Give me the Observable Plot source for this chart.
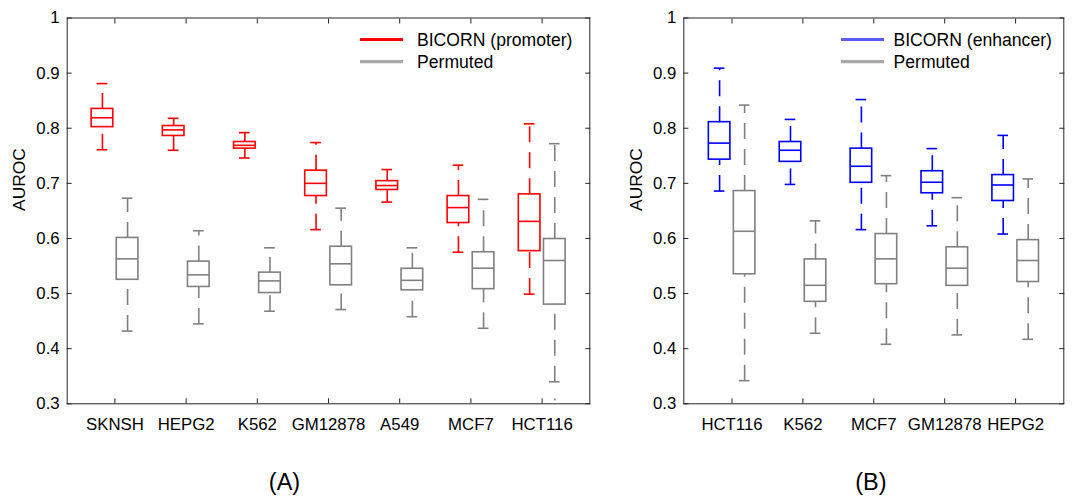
<!DOCTYPE html>
<html><head><meta charset="utf-8">
<script src="https://cdn.jsdelivr.net/npm/d3@7"></script>
<script src="https://cdn.jsdelivr.net/npm/@observablehq/plot@0.6"></script>
<style>
body{margin:0;background:#fff;}
#wrap{position:relative;width:1072px;height:496px;font-family:"Liberation Sans",Arial,Helvetica,sans-serif;}
.panel{position:absolute;top:0;}
.legend{position:absolute;top:0;}
</style></head><body><div id="wrap"></div>
<script>
const promoterCells = ["SKNSH","HEPG2","K562","GM12878","A549","MCF7","HCT116"];
// each entry: [lower whisker, Q1, median, Q3, upper whisker]
const promoterBicorn = [
 [0.761,0.802,0.819,0.835,0.881],
 [0.760,0.786,0.797,0.804,0.818],
 [0.746,0.763,0.769,0.775,0.792],
 [0.616,0.677,0.700,0.723,0.774],
 [0.666,0.688,0.696,0.704,0.725],
 [0.575,0.628,0.656,0.677,0.733],
 [0.499,0.577,0.631,0.680,0.808]];
const promoterPermuted = [
 [0.432,0.525,0.563,0.601,0.673],
 [0.445,0.512,0.534,0.558,0.614],
 [0.468,0.501,0.523,0.538,0.583],
 [0.471,0.515,0.554,0.585,0.655],
 [0.458,0.506,0.524,0.545,0.583],
 [0.437,0.508,0.546,0.575,0.671],
 [0.340,0.480,0.560,0.599,0.772]];
const promoterPermutedOutliers = [{cell:7, value:0.308}];
const enhancerCells = ["HCT116","K562","MCF7","GM12878","HEPG2"];
const enhancerBicorn = [
 [0.686,0.743,0.773,0.811,0.909],
 [0.698,0.739,0.760,0.775,0.816],
 [0.616,0.701,0.731,0.763,0.852],
 [0.623,0.682,0.702,0.722,0.763],
 [0.608,0.668,0.697,0.715,0.787]];
const enhancerPermuted = [
 [0.342,0.535,0.613,0.686,0.842],
 [0.428,0.485,0.515,0.562,0.632],
 [0.408,0.517,0.563,0.608,0.714],
 [0.425,0.514,0.546,0.584,0.674],
 [0.417,0.521,0.560,0.597,0.708]];
const yTicks = [0.3,0.4,0.5,0.6,0.7,0.8,0.9,1];
const promoterLegend = ["BICORN (promoter)","Permuted"];
const enhancerLegend = ["BICORN (enhancer)","Permuted"];

const FONT = '"Liberation Sans",Arial,Helvetica,sans-serif';
const AXIS = "#262626";
const GRAY = "#808080";

function boxMarks(stats, offset, color) {
  const d = stats.map((s,i)=>({pos:i+1+offset, lo:s[0], q1:s[1], med:s[2], q3:s[3], hi:s[4]}));
  const hw = 0.152, cw = 0.075, sw = 1.6;
  return [
    Plot.link(d,{x1:"pos",x2:"pos",y1:"q3",y2:"hi",stroke:color,strokeWidth:sw,strokeDasharray:"16,10"}),
    Plot.link(d,{x1:"pos",x2:"pos",y1:"lo",y2:"q1",stroke:color,strokeWidth:sw,strokeDasharray:"16,10"}),
    Plot.ruleY(d,{y:"hi",x1:r=>r.pos-cw,x2:r=>r.pos+cw,stroke:color,strokeWidth:sw}),
    Plot.ruleY(d,{y:"lo",x1:r=>r.pos-cw,x2:r=>r.pos+cw,stroke:color,strokeWidth:sw}),
    Plot.rect(d,{x1:r=>r.pos-hw,x2:r=>r.pos+hw,y1:"q1",y2:"q3",fill:"none",stroke:color,strokeWidth:sw}),
    Plot.ruleY(d,{y:"med",x1:r=>r.pos-hw,x2:r=>r.pos+hw,stroke:color,strokeWidth:sw})
  ];
}

function panel({cells, bicorn, permuted, outliers, color, pad, width, mL, mR, tag, tagDx}) {
  const xt = d3.range(1, cells.length+1);
  return Plot.plot({
    width, height:496, marginLeft:mL, marginRight:mR, marginTop:17.5, marginBottom:92.7,
    style:{fontFamily:FONT, fontSize:"16.8px", color:AXIS, background:"white"},
    x:{type:"linear", domain:[1-pad, cells.length+pad]},
    y:{domain:[0.3,1]},
    marks:[
      ...boxMarks(bicorn, -0.175, color),
      ...boxMarks(permuted, 0.178, GRAY),
      Plot.dot(outliers, {x:o=>o.cell+0.178, y:"value", r:1, fill:GRAY, stroke:"none"}),
      Plot.axisY(yTicks,{anchor:"left",tickSize:0,tickPadding:7.5,tickFormat:v=>v===1?"1":v.toFixed(1),label:null,fill:"black"}),
      Plot.axisY(yTicks,{anchor:"left",tickSize:-5,tickFormat:()=>"",label:null,stroke:AXIS}),
      Plot.axisY(yTicks,{anchor:"right",tickSize:-5,tickFormat:()=>"",label:null,stroke:AXIS}),
      Plot.axisX(xt,{anchor:"bottom",tickSize:0,tickPadding:14,tickFormat:i=>cells[i-1],label:null,fill:"black"}),
      Plot.axisX(xt,{anchor:"bottom",tickSize:-5,tickFormat:()=>"",label:null,stroke:AXIS}),
      Plot.axisX(xt,{anchor:"top",tickSize:-5,tickFormat:()=>"",label:null,stroke:AXIS}),
      Plot.frame({stroke:AXIS, strokeWidth:1}),
      Plot.text(["AUROC"],{frameAnchor:"left",text:t=>t,rotate:-90,dx:-47.5,fontSize:17.4,lineAnchor:"middle",fill:"black"}),
      Plot.text([tag],{frameAnchor:"bottom",text:t=>t,dy:78.7,dx:tagDx,fontSize:23.5,lineAnchor:"middle",fill:"black"})
    ]
  });
}

function legend(labels, colors, left, lineLen, gap) {
  const svg = d3.create("svg").attr("class","legend").attr("width",260).attr("height",80)
    .style("left", left+"px").style("position","absolute");
  const ys = [39.5, 61.7];
  labels.forEach((lab,i)=>{
    svg.append("line").attr("x1",0).attr("x2",lineLen).attr("y1",ys[i]).attr("y2",ys[i])
      .attr("stroke",colors[i]).attr("stroke-width",3.2);
    svg.append("text").attr("x",lineLen+gap).attr("y",ys[i]).attr("dy","0.36em")
      .attr("font-family",FONT).attr("font-size","17.6px").attr("fill","black").text(lab);
  });
  return svg.node();
}

const wrap = document.getElementById("wrap");
const a = panel({cells:promoterCells, bicorn:promoterBicorn, permuted:promoterPermuted, outliers:promoterPermutedOutliers,
  color:"#ff0000", pad:0.67, width:600, mL:66.7, mR:10.7, tag:"(A)", tagDx:-44});
a.classList.add("panel"); a.style.left="0px";
wrap.appendChild(a);
const b = panel({cells:enhancerCells, bicorn:enhancerBicorn, permuted:enhancerPermuted, outliers:[],
  color:"#0000ff", pad:0.68, width:472, mL:83.3, mR:8.7, tag:"(B)", tagDx:-3});
b.classList.add("panel"); b.style.left="600px";
wrap.appendChild(b);
wrap.appendChild(legend(promoterLegend, ["#ff0000","#a8a8a8"], 359.5, 43, 14));
wrap.appendChild(legend(enhancerLegend, ["#5a5aff","#a8a8a8"], 841, 43, 9.5));
</script></body></html>
